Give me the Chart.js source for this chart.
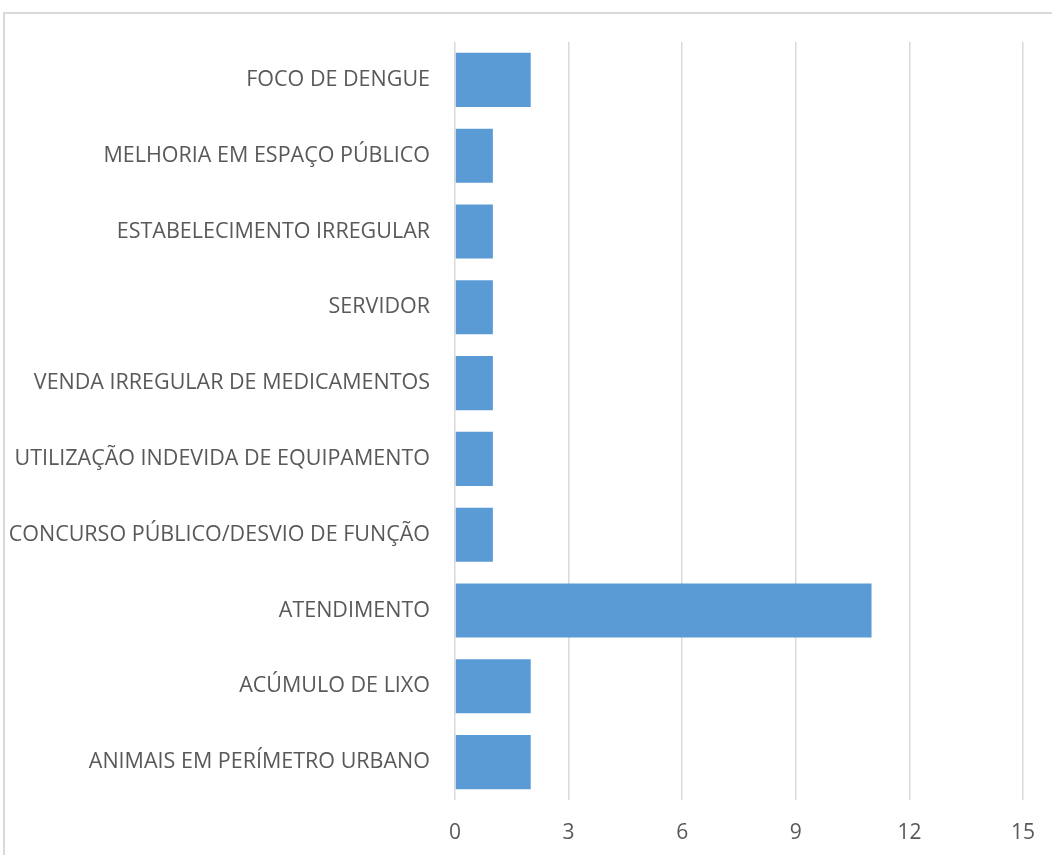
<!DOCTYPE html>
<html>
<head>
<meta charset="utf-8">
<script src="https://cdn.jsdelivr.net/npm/chart.js@4"></script>
<style>
  html, body { margin: 0; padding: 0; background: #ffffff; overflow: hidden; }
  #wrap { position: relative; width: 1052px; height: 855px; }
  #frame { position: absolute; left: 3px; top: 12px; width: 1100px; height: 900px;
           border: 2px solid #d9d9d9; box-sizing: border-box; }
  canvas { position: absolute; left: 0; top: 0; }
</style>
</head>
<body>
<div id="wrap">
  <div id="frame"></div>
  <canvas id="c" width="1052" height="855"></canvas>
</div>
<script>
// Categories listed top to bottom
const categories = [
  'FOCO DE DENGUE',
  'MELHORIA EM ESPAÇO PÚBLICO',
  'ESTABELECIMENTO IRREGULAR',
  'SERVIDOR',
  'VENDA IRREGULAR DE MEDICAMENTOS',
  'UTILIZAÇÃO INDEVIDA DE EQUIPAMENTO',
  'CONCURSO PÚBLICO/DESVIO DE FUNÇÃO',
  'ATENDIMENTO',
  'ACÚMULO DE LIXO',
  'ANIMAIS EM PERÍMETRO URBANO'
];
const counts = [2, 1, 1, 1, 1, 1, 1, 11, 2, 2];
const xTicks = [0, 3, 6, 9, 12, 15];

const textColor = '#595959';
const gridColor = '#d9d9d9';
const fontFamily = '"Open Sans", "DejaVu Sans", sans-serif';

new Chart(document.getElementById('c'), {
  type: 'bar',
  data: {
    labels: categories,
    datasets: [{
      data: counts,
      backgroundColor: '#5b9bd5',
      borderWidth: 0,
      barPercentage: 0.714,
      categoryPercentage: 1
    }]
  },
  options: {
    indexAxis: 'y',
    responsive: false,
    animation: false,
    devicePixelRatio: 1,
    layout: { padding: { top: 42, right: 29, bottom: 0, left: 0 } },
    plugins: { legend: { display: false }, tooltip: { enabled: false } },
    scales: {
      x: {
        min: 0, max: 15,
        afterBuildTicks: (scale) => { scale.ticks = xTicks.map(v => ({ value: v })); },
        afterFit: (scale) => {
          scale.height = 55;
          scale.paddingLeft = 0;
          scale.paddingRight = 0;
        },
        grid: { color: gridColor, lineWidth: 1.5, drawTicks: false },
        border: { display: false },
        ticks: { color: textColor, font: { family: fontFamily, size: 21 }, padding: 20 }
      },
      y: {
        afterFit: (scale) => { scale.width = 455; },
        grid: { display: false },
        border: { display: false },
        ticks: { color: textColor, font: { family: fontFamily, size: 21.5 }, padding: 17 }
      }
    }
  }
});
</script>
</body>
</html>
